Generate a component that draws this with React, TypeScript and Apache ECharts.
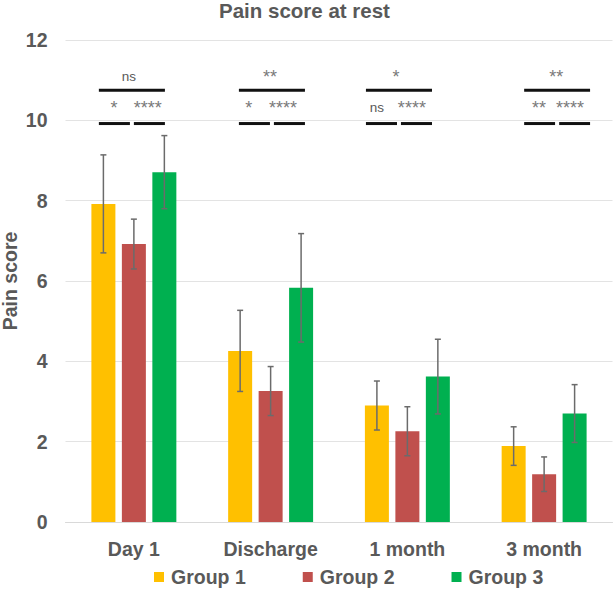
import React, { useEffect, useRef } from "react";
import * as echarts from "echarts";

const categories = ["Day 1", "Discharge", "1 month", "3 month"];
const groupNames = ["Group 1", "Group 2", "Group 3"];
const groupColors = ["#FFC000", "#C0504D", "#00B050"];

const g1Mean = [7.92, 4.26, 2.9, 1.89];
const g1Sd = [1.22, 1.01, 0.61, 0.48];
const g2Mean = [6.92, 3.26, 2.26, 1.19];
const g2Sd = [0.62, 0.61, 0.61, 0.43];
const g3Mean = [8.71, 5.83, 3.62, 2.7];
const g3Sd = [0.91, 1.35, 0.93, 0.72];

const yTicks = [0, 2, 4, 6, 8, 10, 12];

// significance brackets (category-unit positions, y level)
const bracketStart = [-0.256, 0.768, 1.697, 2.854, -0.256, 0.0, 0.768, 1.024, 1.697, 1.953, 2.854, 3.11];
const bracketEnd = [0.227, 1.251, 2.18, 3.336, -0.029, 0.227, 0.995, 1.251, 1.924, 2.18, 3.08, 3.336];
const bracketLevel = [10.75, 10.75, 10.75, 10.75, 9.92, 9.92, 9.92, 9.92, 9.92, 9.92, 9.92, 9.92];

const sigText = ["ns", "*", "****", "**", "*", "****", "*", "ns", "****", "**", "**", "****"];
const sigX = [-0.037, -0.146, 0.102, 0.995, 0.84, 1.09, 1.917, 1.777, 2.033, 3.088, 2.963, 3.19];
const sigY = [11.09, 10.31, 10.31, 11.09, 10.31, 10.31, 11.09, 10.31, 10.31, 11.09, 10.31, 10.31];

const means = [g1Mean, g2Mean, g3Mean];
const sds = [g1Sd, g2Sd, g3Sd];

const BAR_W = 24;
const BAR_GAP = 0.27;
const FONT = "'Liberation Sans', Arial, sans-serif";
const TEXT_COLOR = "#595959";

export default function App() {
  const ref = useRef<HTMLDivElement>(null);
  useEffect(() => {
    if (!ref.current) return;
    const chart = echarts.init(ref.current, undefined, { renderer: "svg" });

    const barSeries = groupNames.map((name, g) => ({
      name,
      type: "bar",
      xAxisIndex: 0,
      yAxisIndex: 0,
      data: means[g],
      barWidth: BAR_W,
      barGap: BAR_GAP * 100 + "%",
      itemStyle: { color: groupColors[g] },
      z: 2,
    }));

    const errSeries = groupNames.map((name, g) => ({
      type: "custom",
      xAxisIndex: 0,
      yAxisIndex: 0,
      z: 5,
      silent: true,
      data: means[g].map((m, i) => [i, m - sds[g][i], m + sds[g][i]]),
      renderItem: (params: any, api: any) => {
        const ci = api.value(0);
        const lo = api.coord([ci, api.value(1)]);
        const hi = api.coord([ci, api.value(2)]);
        const off = (g - 1) * BAR_W * (1 + BAR_GAP);
        const x = lo[0] + off;
        const cap = 3;
        const style = { stroke: "#6b6b6b", lineWidth: 1.5 };
        return {
          type: "group",
          children: [
            { type: "line", shape: { x1: x, y1: hi[1], x2: x, y2: lo[1] }, style },
            { type: "line", shape: { x1: x - cap, y1: hi[1], x2: x + cap, y2: hi[1] }, style },
            { type: "line", shape: { x1: x - cap, y1: lo[1], x2: x + cap, y2: lo[1] }, style },
          ],
        };
      },
    }));

    const bracketSeries = {
      type: "custom",
      xAxisIndex: 1,
      yAxisIndex: 0,
      z: 6,
      silent: true,
      data: bracketStart.map((s, i) => [s, bracketEnd[i], bracketLevel[i]]),
      renderItem: (params: any, api: any) => {
        const a = api.coord([api.value(0), api.value(2)]);
        const b = api.coord([api.value(1), api.value(2)]);
        return {
          type: "line",
          shape: { x1: a[0], y1: a[1], x2: b[0], y2: b[1] },
          style: { stroke: "#111111", lineWidth: 3 },
        };
      },
    };

    const sigSeries = {
      type: "custom",
      xAxisIndex: 1,
      yAxisIndex: 0,
      z: 6,
      silent: true,
      data: sigX.map((x, i) => [x, sigY[i]]),
      renderItem: (params: any, api: any) => {
        const p = api.coord([api.value(0), api.value(1)]);
        const t = sigText[params.dataIndex];
        const isStar = t.indexOf("*") >= 0;
        return {
          type: "text",
          x: p[0],
          y: p[1],
          style: {
            text: t,
            align: "center",
            verticalAlign: "middle",
            fill: isStar ? "#7a7a7a" : TEXT_COLOR,
            fontSize: isStar ? 18 : 13.5,
            fontFamily: FONT,
          },
        };
      },
    };

    chart.setOption({
      animation: false,
      backgroundColor: "#ffffff",
      title: {
        text: "Pain score at rest",
        left: 219,
        top: 0,
        padding: 0,
        textStyle: { fontFamily: FONT, fontSize: 20.5, fontWeight: "bold", color: TEXT_COLOR },
      },
      legend: {
        data: groupNames,
        left: 154,
        top: 567,
        padding: 0,
        itemWidth: 10,
        itemHeight: 10,
        itemGap: 57,
        icon: "rect",
        textStyle: { fontFamily: FONT, fontSize: 19.5, fontWeight: "bold", color: TEXT_COLOR, padding: [0, 0, 0, 2] },
      },
      grid: { left: 65.5, right: 3.5, top: 40, bottom: 73, containLabel: false, outerBoundsMode: "none" },
      xAxis: [
        {
          type: "category",
          data: categories,
          axisLine: { show: true, lineStyle: { color: "#d9d9d9", width: 1 } },
          axisTick: { show: false },
          axisLabel: {
            fontFamily: FONT,
            fontSize: 19.5,
            fontWeight: "bold",
            color: TEXT_COLOR,
            margin: 17,
          },
        },
        {
          type: "value",
          min: -0.5,
          max: 3.5,
          show: false,
          position: "bottom",
        },
      ],
      yAxis: {
        type: "value",
        min: yTicks[0],
        max: yTicks[yTicks.length - 1],
        interval: 2,
        name: "Pain score",
        nameLocation: "middle",
        nameGap: 46,
        nameMoveOverlap: false,
        nameTextStyle: { fontFamily: FONT, fontSize: 19.5, fontWeight: "bold", color: TEXT_COLOR },
        axisLine: { show: false },
        axisTick: { show: false },
        axisLabel: {
          fontFamily: FONT,
          fontSize: 19.5,
          fontWeight: "bold",
          color: TEXT_COLOR,
          margin: 18,
        },
        splitLine: { lineStyle: { color: "#e3e3e3", width: 1 } },
      },
      series: [...barSeries, ...errSeries, bracketSeries, sigSeries],
    });
    return () => chart.dispose();
  }, []);
  return <div ref={ref} style={{ width: 616, height: 595, position: "absolute", left: 0, top: 0 }} />;
}
